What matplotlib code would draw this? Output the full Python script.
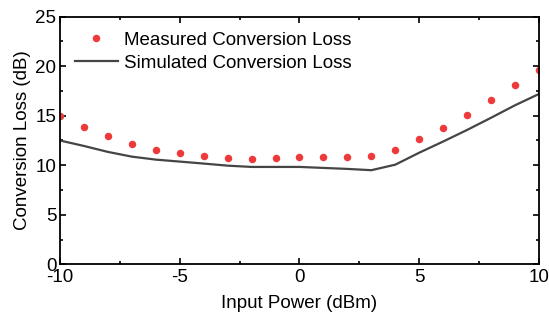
import matplotlib
matplotlib.use("Agg")
import matplotlib.pyplot as plt
from matplotlib.ticker import MultipleLocator

plt.rcParams['font.family'] = ['Liberation Sans', 'DejaVu Sans']
plt.rcParams['axes.unicode_minus'] = False

# Input power (dBm)
power = [-10, -9, -8, -7, -6, -5, -4, -3, -2, -1, 0, 1, 2, 3, 4, 5, 6, 7, 8, 9, 10]

# Measured conversion loss (dB)
measured = [15.0, 13.9, 13.0, 12.15, 11.55, 11.2, 10.95, 10.7, 10.6, 10.7, 10.8,
            10.8, 10.85, 10.95, 11.5, 12.6, 13.8, 15.1, 16.6, 18.15, 19.6]

# Simulated conversion loss (dB)
simulated = [12.5, 11.95, 11.35, 10.87, 10.57, 10.37, 10.17, 9.96, 9.83, 9.83, 9.83,
             9.73, 9.63, 9.5, 10.06, 11.27, 12.4, 13.57, 14.8, 16.06, 17.2]

fig = plt.figure(figsize=(5.49, 3.2), dpi=100)
ax = fig.add_axes([0.109, 0.174, 0.873, 0.774])

ax.plot(power, measured, 'o', color='#ee3a3a', markersize=5.4, markeredgewidth=0,
        label='Measured Conversion Loss')
ax.plot(power, simulated, '-', color='#454545', linewidth=1.6,
        label='Simulated Conversion Loss')

ax.set_xlim(-10, 10)
ax.set_ylim(0, 25)
ax.xaxis.set_major_locator(MultipleLocator(5))
ax.xaxis.set_minor_locator(MultipleLocator(2.5))
ax.yaxis.set_major_locator(MultipleLocator(5))
ax.yaxis.set_minor_locator(MultipleLocator(2.5))
ax.tick_params(which='both', direction='in', top=True, right=True, labelsize=13.5,
               width=1.2)
ax.tick_params(which='major', length=4.5)
ax.tick_params(which='minor', length=2.5)
ax.tick_params(axis='y', which='major', pad=2.5)
ax.tick_params(axis='x', which='major', pad=3.5)
for s in ax.spines.values():
    s.set_linewidth(1.3)

ax.set_xlabel('Input Power (dBm)', fontsize=13.5, labelpad=6)
ax.set_ylabel('Conversion Loss (dB)', fontsize=13.5, labelpad=3)

ax.legend(loc='upper left', frameon=False, fontsize=13.5, handlelength=2.3,
          handletextpad=0.3, labelspacing=0.3, borderaxespad=0.4,
          bbox_to_anchor=(0.0, 1.0))

fig.savefig('out.png', dpi=100)
